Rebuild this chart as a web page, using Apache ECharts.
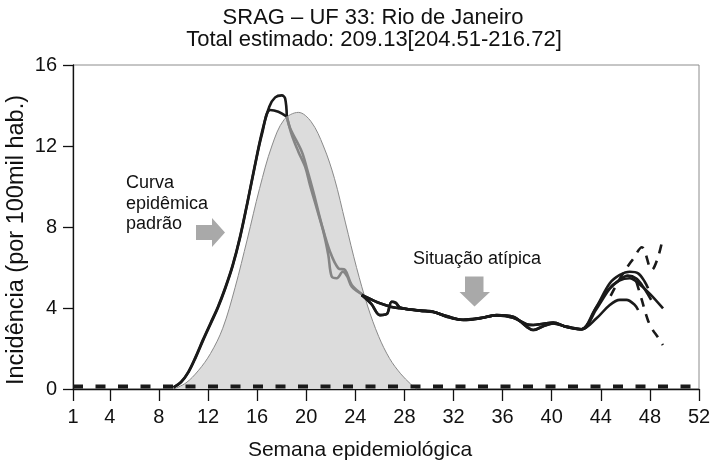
<!DOCTYPE html>
<html>
<head>
<meta charset="utf-8">
<script src="https://cdn.jsdelivr.net/npm/echarts@6/dist/echarts.min.js"></script>
<style>
  html, body { margin: 0; padding: 0; background: #fff; }
  #chart { width: 713px; height: 461px; }
</style>
</head>
<body>
<div id="chart"></div>
<script>
// tick labels
const weekTicks = [1, 4, 8, 12, 16, 20, 24, 28, 32, 36, 40, 44, 48, 52]
const incTicks = [0, 4, 8, 12, 16]

// curva epidêmica padrão (shaded) : [semana, incidência]
const padrao = [[9.2, 0], [10.2, 0.3], [11.2, 0.9], [12.2, 1.75], [13.2, 3.0], [14.2, 5.0], [15.2, 7.4],
  [16.2, 9.9], [17.2, 12.0], [18.2, 13.3], [19.36, 13.66], [20.4, 13.2], [21.4, 12.0], [22.3, 10.4],
  [23.2, 8.2], [24.1, 6.0], [25.0, 4.1], [25.9, 2.6], [26.8, 1.5], [27.7, 0.75], [28.5, 0.25], [29.0, 0]]

// dashed line along zero
const baseline = [[1, 0.12], [52, 0.12]]

// rising part (black)
const riseA = [[9.19, 0.08], [9.8, 0.35], [10.4, 0.85], [11.0, 1.6], [11.6, 2.45], [12.2, 3.25],
  [12.8, 4.05], [13.4, 5.0], [14.0, 6.1], [14.6, 7.5], [15.2, 9.2], [15.8, 11.0], [16.4, 12.7],
  [17.0, 13.95], [17.47, 14.4], [18.01, 14.5], [18.28, 14.35], [18.42, 13.45]]
const riseB = [[9.19, 0.08], [9.8, 0.33], [10.4, 0.82], [11.0, 1.56], [11.6, 2.4], [12.2, 3.2],
  [12.8, 4.0], [13.4, 4.95], [14.0, 6.05], [14.6, 7.45], [15.2, 9.15], [15.8, 10.95], [16.4, 12.6],
  [17.06, 13.78], [17.73, 13.69], [18.42, 13.45]]

// falling part (gray)
const fallA = [[18.42, 13.45], [18.83, 12.54], [19.36, 11.72], [19.91, 10.98], [20.31, 10.07],
  [20.86, 8.92], [21.4, 7.77], [21.8, 6.62], [22.08, 5.55], [22.49, 5.47], [22.98, 5.79],
  [23.35, 5.55], [23.71, 5.05], [24.65, 4.64]]
const fallB = [[18.42, 13.45], [18.69, 12.88], [19.64, 11.72], [20.05, 10.9], [20.58, 9.74],
  [21.27, 8.1], [21.94, 6.78], [22.62, 5.96], [23.16, 5.88], [23.71, 5.14], [24.65, 4.64]]

// after the peak (black)
const tailLoop = [[24.52, 4.64], [25.3, 4.2], [26.01, 3.65], [26.56, 3.7], [26.96, 4.31], [27.3, 4.25], [27.64, 4.03]]
const tailFlat = [[24.52, 4.64], [25.3, 4.42], [26.01, 4.23], [26.96, 4.05], [27.64, 3.99]]
const midA = [[29.27, 3.87], [30.35, 3.82], [31.44, 3.57], [32.79, 3.41], [34.15, 3.49], [35.51, 3.65],
  [36.86, 3.57], [37.95, 3.08], [38.49, 2.91], [39.3, 3.1], [40.12, 3.24], [41.21, 3.08], [42.43, 2.95]]
const midB = [[29.27, 3.87], [30.35, 3.8], [31.44, 3.6], [32.79, 3.42], [34.15, 3.5], [35.51, 3.63],
  [36.86, 3.52], [37.95, 3.2], [38.49, 3.16], [39.3, 3.22], [40.12, 3.28], [41.21, 3.06], [42.43, 2.95]]

// end of the season
const endS1 = [[43.65, 4.06], [44.73, 5.22], [45.55, 5.63], [46.36, 5.79], [47.04, 5.71], [47.58, 5.3], [47.85, 4.97]]
const endS2 = [[43.5, 3.9], [44.6, 4.9], [45.5, 5.35], [46.36, 5.47], [47.1, 5.2], [48.0, 4.7], [49.07, 3.98]]
const endS3 = [[43.65, 3.49], [44.73, 4.15], [45.55, 4.4], [46.09, 4.4], [46.77, 4.15], [47.04, 3.9]]
const endS4 = [[43.65, 3.95], [44.73, 4.95], [45.55, 5.4], [46.2, 5.6], [46.9, 5.45], [47.5, 5.0], [48.1, 4.4]]
const dashUp = [[44.8, 4.6], [45.7, 5.6], [46.6, 6.4], [47.35, 7.0], [48.15, 5.88], [48.64, 6.47], [49.07, 7.5]]
const dashLow = [[46.9, 5.3], [47.34, 4.4], [47.83, 3.41], [48.24, 2.91], [48.64, 2.57], [49.05, 2.17]]

const FONT = 'Liberation Sans, Arial, Helvetica, sans-serif'
const BLACK = '#1a1a1a'
const GRAY = '#858585'

function curve(data, color, width, type) {
  return {
    type: 'line',
    data: data,
    showSymbol: false,
    smooth: 0.35,
    silent: true,
    lineStyle: { color: color, width: width, type: type || 'solid', cap: 'butt' },
    z: 5
  }
}

const chart = echarts.init(document.getElementById('chart'))
chart.setOption({
  animation: false,
  grid: {
    left: 73, right: 14, top: 65, bottom: 72,
    show: true, borderColor: '#8c8c8c', borderWidth: 1,
    outerBoundsMode: 'none'
  },
  xAxis: {
    type: 'value',
    min: 1,
    max: 52,
    axisLine: { lineStyle: { color: '#111', width: 1.3 } },
    axisTick: { length: 12, customValues: weekTicks, lineStyle: { color: '#111', width: 1.3 } },
    axisLabel: { customValues: weekTicks, margin: 18, color: '#111', fontSize: 20, fontFamily: FONT },
    splitLine: { show: false }
  },
  yAxis: {
    type: 'value',
    min: 0,
    max: 16,
    interval: 4,
    axisLine: { show: true, lineStyle: { color: '#111', width: 1.3 } },
    axisTick: { show: true, length: 10, lineStyle: { color: '#111', width: 1.3 } },
    axisLabel: { margin: 16, color: '#111', fontSize: 20, fontFamily: FONT,
      customValues: incTicks },
    splitLine: { show: false }
  },
  graphic: [
    { type: 'text', x: 373, y: 18, style: { text: 'SRAG – UF 33: Rio de Janeiro', font: '22px ' + FONT, fill: '#111', align: 'center', verticalAlign: 'middle' } },
    { type: 'text', x: 374, y: 40, style: { text: 'Total estimado: 209.13[204.51-216.72]', font: '22px ' + FONT, fill: '#111', align: 'center', verticalAlign: 'middle' } },
    { type: 'text', x: 360, y: 450, style: { text: 'Semana epidemiológica', font: '21px ' + FONT, fill: '#111', align: 'center', verticalAlign: 'middle' } },
    { type: 'text', x: 17, y: 240, rotation: Math.PI / 2, style: { text: 'Incidência (por 100mil hab.)', font: '23.5px ' + FONT, fill: '#111', align: 'center', verticalAlign: 'middle' } },
    { type: 'text', x: 126, y: 173, style: { text: 'Curva\nepidêmica\npadrão', font: '18px ' + FONT, lineHeight: 20.5, fill: '#111', align: 'left', verticalAlign: 'top' } },
    { type: 'text', x: 413, y: 259, style: { text: 'Situação atípica', font: '18px ' + FONT, fill: '#111', align: 'left', verticalAlign: 'middle' } },
    { type: 'polygon', shape: { points: [[196, 225], [212, 225], [212, 218], [225, 232.5], [212, 247], [212, 240], [196, 240]] }, style: { fill: '#a9a9a9' } },
    { type: 'polygon', shape: { points: [[465, 276.5], [483.5, 276.5], [483.5, 292], [490, 292], [474.5, 306.5], [459.5, 292], [465, 292]] }, style: { fill: '#a9a9a9' } }
  ],
  series: [
    {
      type: 'line', data: padrao, showSymbol: false, smooth: 0.35, silent: true, z: 2,
      lineStyle: { color: '#8a8a8a', width: 1 },
      areaStyle: { color: '#dcdcdc', opacity: 1 }
    },
    {
      type: 'line', data: baseline, showSymbol: false, silent: true, z: 3,
      lineStyle: { color: BLACK, width: 4, type: [10, 12.5], cap: 'butt' }
    },
    curve(riseA, BLACK, 2.6),
    curve(riseB, BLACK, 2.6),
    curve(fallA, GRAY, 2.6),
    curve(fallB, GRAY, 2.6),
    curve(tailLoop.concat(midA, endS1), BLACK, 2.6),
    curve(tailFlat.concat(midB, endS2), BLACK, 2.6),
    curve(tailLoop.concat(midB, endS3), BLACK, 2.6),
    curve(tailFlat.concat(midA, endS4), BLACK, 2.6),
    curve(dashUp, BLACK, 2.6, [9, 8]),
    curve(dashLow, BLACK, 2.6, [9, 8])
  ]
})
</script>
</body>
</html>
